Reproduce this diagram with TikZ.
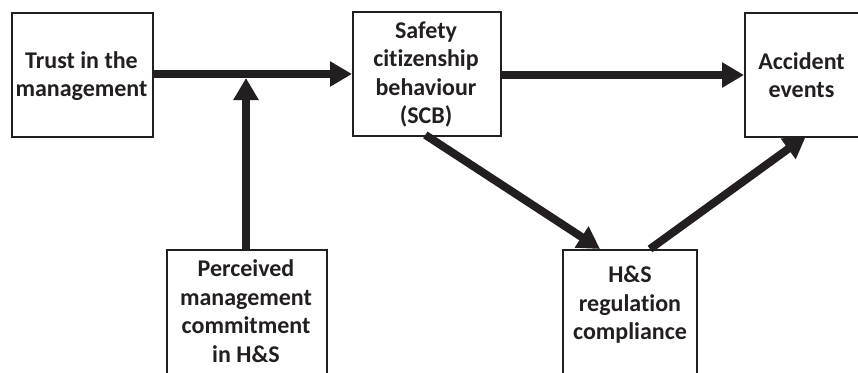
\documentclass[tikz,border=0pt]{standalone}
\usepackage{fontspec}
\setmainfont[Ligatures=NoCommon]{Carlito}
\usetikzlibrary{arrows.meta}
\definecolor{ink}{HTML}{231F20}
\begin{document}
\begin{tikzpicture}[x=1pt,y=-1pt,
  box/.style={draw=ink,line width=1.6pt,inner sep=0pt,anchor=north west},
  lbl/.style={align=center,text=ink,font=\fontsize{24}{28.5}\selectfont\bfseries,inner sep=0pt},
  flow/.style={draw=ink,line width=8pt,-{Triangle[length=22pt,width=24pt]}}]
\useasboundingbox (0,0) rectangle (858,372);
\clip (0,0) rectangle (858,372);
% boxes
\node[box,minimum width=141pt,minimum height=124pt] (trust) at (11,12) {};
\node[box,minimum width=148pt,minimum height=124pt] (scb) at (352,11) {};
\node[box,minimum width=130pt,minimum height=124pt] (acc) at (744,12) {};
\node[box,minimum width=160pt,minimum height=140pt] (pmc) at (166,249) {};
\node[box,minimum width=134pt,minimum height=140pt] (hs) at (562,249) {};
% labels
\node[lbl] (trustT) at (81.5,76) {Trust in the\\management};
\node[lbl] (scbT) at (426,74.5) {Safety\\citizenship\\behaviour\\(SCB)};
\node[lbl] (accT) at (801.5,75) {Accident\\events};
\node[lbl] (pmcT) at (246,311) {Perceived\\management\\commitment\\in H\&S};
\node[lbl] (hsT) at (630,305) {H\&S\\regulation\\compliance};
% connector helpers
\coordinate (jn) at (246,78);
\coordinate (d1s) at (427,136);
\coordinate (d1e) at (600,249);
\coordinate (d2s) at (650,249);
\coordinate (d2e) at (806,136);
% connectors
\draw[flow] (trust.east |- 0,74) -- (scb.west |- 0,74);
\draw[flow] (pmc.north -| jn) -- (jn);
\draw[flow] (scb.east |- 0,75) -- (acc.west |- 0,75);
\draw[flow,shorten <=-2pt] (d1s) -- (d1e);
\draw[flow] (d2s) -- (d2e);
\end{tikzpicture}
\end{document}
